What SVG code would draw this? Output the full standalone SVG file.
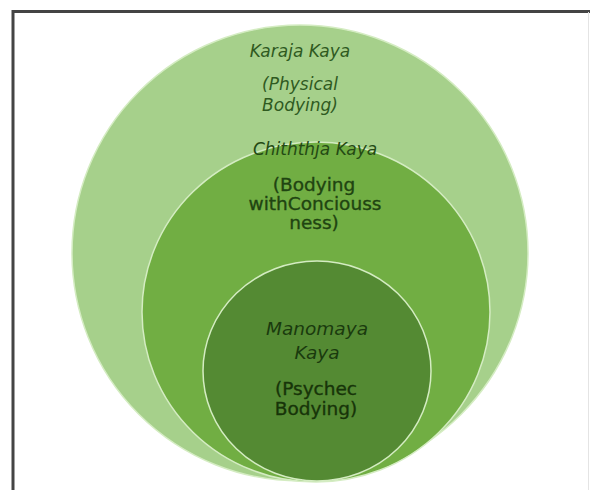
<svg xmlns="http://www.w3.org/2000/svg" width="590" height="490" viewBox="0 0 590 490">
<style>
.ring{stroke:#d4ecc2;stroke-width:1.5}
.it{font-family:"DejaVu Sans",sans-serif;font-style:italic;text-anchor:middle}
.up{font-family:"DejaVu Sans",sans-serif;text-anchor:middle;stroke-width:0.35}
</style>
<rect x="0" y="0" width="590" height="490" fill="#ffffff"/>
<path d="M13 490 V11.5 H590" fill="none" stroke="#444444" stroke-width="3"/>
<line x1="588.5" y1="12" x2="588.5" y2="490" stroke="#e4e4e4" stroke-width="1"/>
<g id="outer">
<ellipse cx="300" cy="253" rx="228" ry="228" fill="#a6d08b" class="ring"/>
<text class="it" x="300" y="57" font-size="17" fill="#2f5a1f">Karaja Kaya</text>
<text class="it" x="300" y="90" font-size="17" fill="#2f5a1f">(Physical</text>
<text class="it" x="300" y="111" font-size="17" fill="#2f5a1f">Bodying)</text>
</g>
<g id="middle">
<ellipse cx="316" cy="312" rx="174" ry="170" fill="#71ae43" class="ring"/>
<text class="it" x="315" y="155" font-size="17" fill="#244a14">Chiththja Kaya</text>
<text class="up" x="314" y="191" font-size="18.5" fill="#1f4411" stroke="#1f4411">(Bodying</text>
<text class="up" x="315" y="210" font-size="18.5" fill="#1f4411" stroke="#1f4411">withConciouss</text>
<text class="up" x="314" y="229" font-size="18.5" fill="#1f4411" stroke="#1f4411">ness)</text>
</g>
<g id="inner">
<ellipse cx="317" cy="371" rx="114" ry="110" fill="#548a33" class="ring"/>
<text class="it" x="317" y="335" font-size="18.5" fill="#1a3a0e">Manomaya</text>
<text class="it" x="317" y="359" font-size="18.5" fill="#1a3a0e">Kaya</text>
<text class="up" x="316" y="395" font-size="18.5" fill="#173409" stroke="#173409">(Psychec</text>
<text class="up" x="316" y="415" font-size="18.5" fill="#173409" stroke="#173409">Bodying)</text>
</g>
<g id="connectors"></g>
</svg>
